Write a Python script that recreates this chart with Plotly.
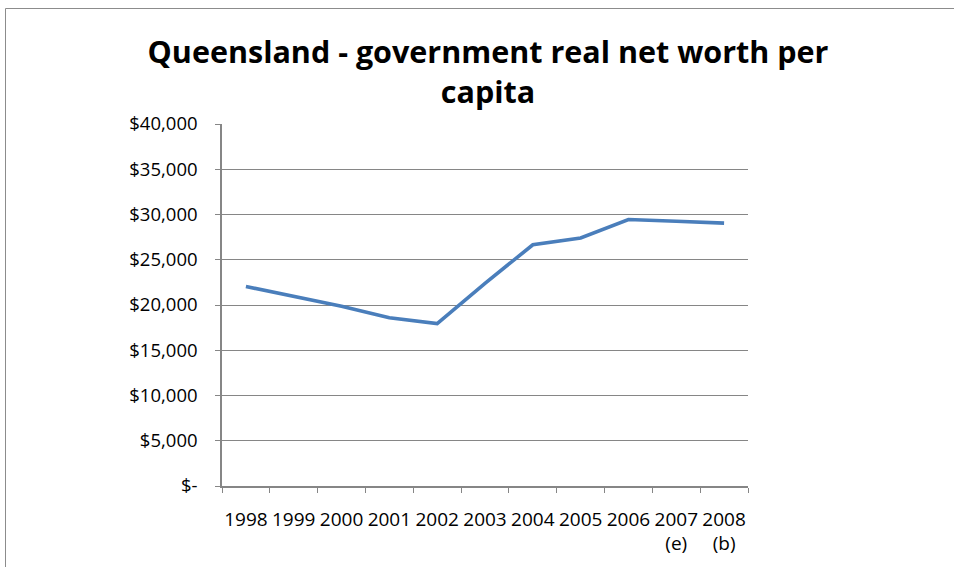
import plotly.graph_objects as go

# Financial years and per-capita real net worth (AUD)
years = ["1998", "1999", "2000", "2001", "2002", "2003",
         "2004", "2005", "2006", "2007<br>(e)", "2008<br>(b)"]
net_worth = [22050, 21000, 19850, 18600, 17950, 22400,
             26650, 27400, 29450, 29250, 29050]

y_tick_vals = [0, 5000, 10000, 15000, 20000, 25000, 30000, 35000, 40000]
y_tick_text = ["$-", "$5,000", "$10,000", "$15,000", "$20,000",
               "$25,000", "$30,000", "$35,000", "$40,000"]

W, H = 954, 567
left, right, top, bottom = 222, 748, 124, 486
grey = "#868686"
font_family = "Open Sans, Liberation Sans, sans-serif"

fig = go.Figure()
fig.add_trace(go.Scatter(
    x=years, y=net_worth, mode="lines",
    line=dict(color="#4A7EBB", width=3.6),
    hoverinfo="x+y", showlegend=False,
))

# outer chart border (only left/top edges fall inside the canvas)
pw, ph = right - left, bottom - top
def px_x(v):
    return (v - left) / pw
def px_y(v):
    return (bottom - v) / ph

fig.add_shape(type="rect", xref="paper", yref="paper",
              x0=px_x(5.5), x1=px_x(W + 20), y0=px_y(8.5), y1=px_y(H + 20),
              line=dict(color="#8c8c8c", width=1), fillcolor="rgba(0,0,0,0)",
              layer="below")

fig.update_layout(
    width=W, height=H,
    margin=dict(l=left, r=W - right, t=top, b=H - bottom, pad=0),
    paper_bgcolor="white", plot_bgcolor="white",
    title=dict(
        text="<b>Queensland - government real net worth per<br>capita</b>",
        x=px_x(488), xanchor="center", xref="paper",
        y=1 - 63 / H, yanchor="bottom", yref="container",
        font=dict(family="Open Sans, sans-serif", size=30.5, color="black"),
    ),
    xaxis=dict(
        type="category", tickson="boundaries", ticks="outside", ticklen=5,
        tickcolor=grey, showline=True, linecolor=grey, linewidth=1.5,
        showgrid=False, ticklabelstandoff=15, tickangle=0,
        tickfont=dict(family=font_family, size=19, color="black"),
        range=[-0.5, len(years) - 0.5],
    ),
    yaxis=dict(
        range=[0, 40000], tickvals=y_tick_vals, ticktext=y_tick_text,
        ticks="outside", ticklen=5, tickcolor=grey,
        showline=True, linecolor=grey, linewidth=1.5,
        showgrid=True, gridcolor=grey, gridwidth=1, zeroline=False,
        ticklabelstandoff=14,
        tickfont=dict(family=font_family, size=18.5, color="black"),
    ),
)

fig.write_html("out.html")
